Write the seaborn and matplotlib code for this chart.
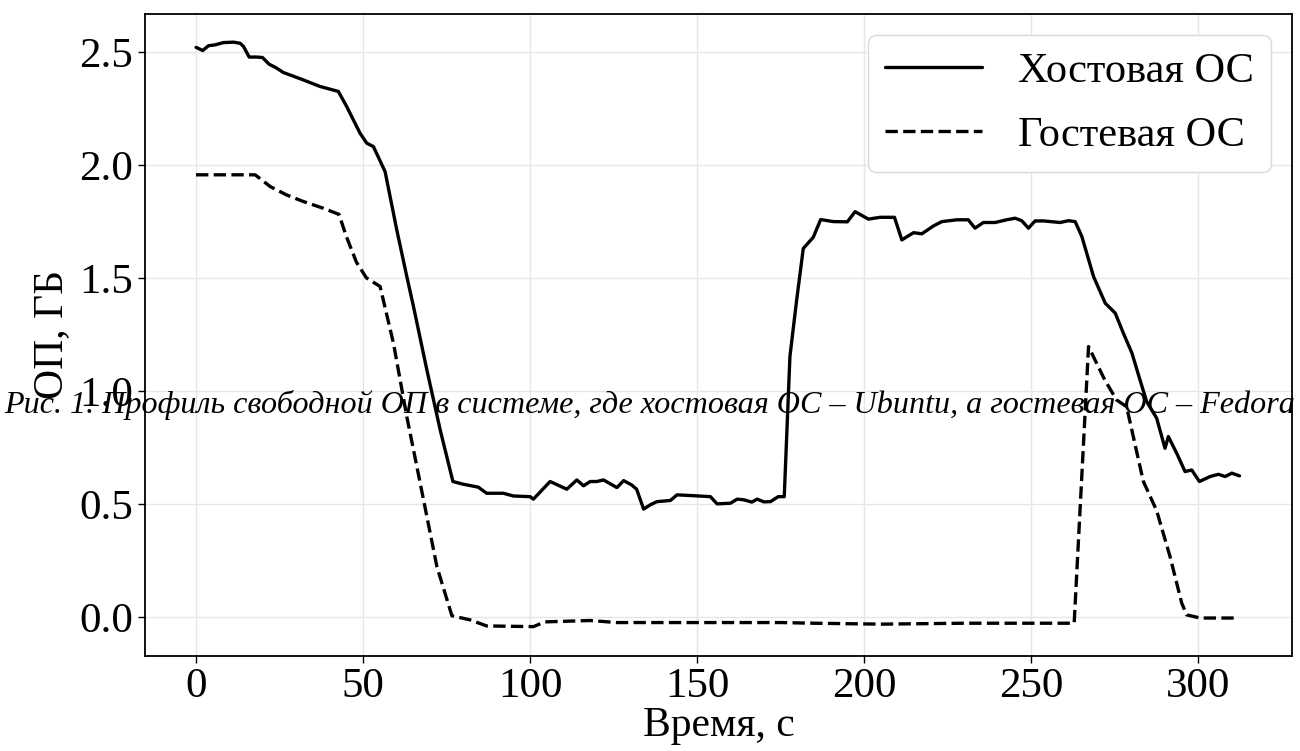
import numpy as np
import pandas as pd
import matplotlib
matplotlib.use("Agg")
import matplotlib.pyplot as plt
import seaborn as sns

# Free RAM profile, host OS (solid line)
host_t = [0, 2, 3.7, 5.7, 8.2, 11.2, 13.2, 14.2, 15.9, 18.2, 19.9, 21.9, 23.7, 26.1,
          32.1, 37.1, 42.6, 45.1, 49.1, 51.1, 53.1, 56.6, 60.1, 63.1, 65.1, 69.1,
          73.1, 76.9, 80, 84.5, 87, 92, 95, 100, 101, 106, 111, 114, 116, 118, 120,
          122, 126, 128, 130.4, 131.9, 134, 136, 138, 142, 144, 148, 154, 156, 160,
          162, 164, 166.4, 168, 170, 172, 174.3, 176.1, 177.8, 179.8, 181.8, 184.8,
          187, 190.8, 195, 197.3, 201.3, 204.8, 209.1, 211.3, 214.8, 217.3, 220.8,
          223.3, 227.8, 231.2, 233.2, 235.7, 239.2, 242.7, 245.2, 247.2, 249.2,
          251.2, 253.7, 258.7, 261.2, 263.2, 265.2, 268.7, 272.2, 275.2, 277.5,
          280.2, 282.6, 284.6, 287.6, 290.1, 291.1, 293.6, 296.1, 298.1, 300.4,
          303.6, 306.1, 308.1, 310.1, 312.4]
host_mem = [2.52, 2.506, 2.527, 2.531, 2.541, 2.543, 2.538, 2.524, 2.477, 2.477, 2.475,
            2.445, 2.432, 2.409, 2.376, 2.347, 2.325, 2.258, 2.14, 2.096, 2.081, 1.97,
            1.712, 1.506, 1.373, 1.093, 0.827, 0.599, 0.587, 0.574, 0.547, 0.547, 0.535,
            0.532, 0.521, 0.599, 0.565, 0.606, 0.58, 0.599, 0.599, 0.606, 0.572, 0.603,
            0.584, 0.565, 0.477, 0.496, 0.51, 0.515, 0.54, 0.537, 0.532, 0.50, 0.503,
            0.521, 0.518, 0.508, 0.521, 0.509, 0.51, 0.532, 0.532, 1.152, 1.40, 1.63,
            1.68, 1.758, 1.749, 1.748, 1.793, 1.76, 1.768, 1.768, 1.668, 1.70, 1.695,
            1.73, 1.749, 1.757, 1.757, 1.72, 1.745, 1.745, 1.757, 1.764, 1.753, 1.72,
            1.752, 1.752, 1.745, 1.753, 1.749, 1.683, 1.506, 1.388, 1.344, 1.26, 1.167,
            1.049, 0.953, 0.879, 0.746, 0.798, 0.724, 0.643, 0.65, 0.599, 0.621, 0.631,
            0.621, 0.636, 0.624]

# Free RAM profile, guest OS (dashed line)
guest_t = [0, 17.7, 22.2, 27.1, 32.1, 38.1, 42.8, 45, 48, 51, 55.1, 59.1, 63.1, 67.1,
           72.1, 76.6, 82, 87, 101, 104.5, 118, 126, 150, 175, 185, 205, 230, 262.9,
           267.2, 272, 275.6, 278.6, 283.6, 287.6, 291.6, 295.1, 296.6, 300.6, 312.1]
guest_mem = [1.956, 1.956, 1.904, 1.867, 1.838, 1.808, 1.781, 1.683, 1.57, 1.5, 1.462,
             1.211, 0.886, 0.592, 0.223, 0.005, -0.013, -0.04, -0.043, -0.022, -0.016,
             -0.025, -0.025, -0.025, -0.028, -0.032, -0.028, -0.028, 1.196, 1.05, 0.96,
             0.93, 0.60, 0.47, 0.267, 0.061, 0.009, -0.005, -0.005]

labels = ["Хостовая ОС", "Гостевая ОС"]
caption = "Рис. 1. Профиль свободной ОП в системе, где хостовая ОС – Ubuntu, а гостевая ОС – Fedora"

sns.set_theme(style="whitegrid")
plt.rcParams["font.family"] = ["Liberation Serif", "DejaVu Serif"]
plt.rcParams["axes.edgecolor"] = "black"
plt.rcParams["grid.color"] = "#e6e6e6"
for k in ["text.color", "axes.labelcolor", "xtick.color", "ytick.color"]:
    plt.rcParams[k] = "black"

fig = plt.figure(figsize=(13, 7.51), dpi=100)
ax = fig.add_axes([0.1115, 0.1265, 0.8823, 0.855])

sns.lineplot(x=host_t, y=host_mem, ax=ax, color="black", lw=2.4, label=labels[0])
sns.lineplot(x=guest_t, y=guest_mem, ax=ax, color="black", lw=2.4,
             linestyle="--", label=labels[1])

ax.set_xlim(-15.3, 328.1)
ax.set_ylim(-0.173, 2.668)
ax.set_xticks([0, 50, 100, 150, 200, 250, 300])
ax.set_yticks([0.0, 0.5, 1.0, 1.5, 2.0, 2.5])
ax.yaxis.set_major_formatter(matplotlib.ticker.FormatStrFormatter("%.1f"))
ax.tick_params(labelsize=31, length=5, width=1, color="black", left=True, bottom=True)
for s in ax.spines.values():
    s.set_linewidth(1.3)
    s.set_color("black")

ax.set_xlabel("Время, с", fontsize=30, labelpad=0)
ax.set_ylabel("ОП, ГБ", fontsize=30, labelpad=6)

ax.legend(loc="upper right", fontsize=30.5, handlelength=2.3, handletextpad=0.85,
          labelspacing=0.6, borderpad=0.4, framealpha=1, edgecolor="#d9d9d9",
          fancybox=True)

fig.text(0.5, 0.461, caption, ha="center", va="center", fontsize=23.1,
         style="italic", family=["Liberation Serif", "DejaVu Serif"], zorder=10)

fig.savefig("out.png", dpi=100)
